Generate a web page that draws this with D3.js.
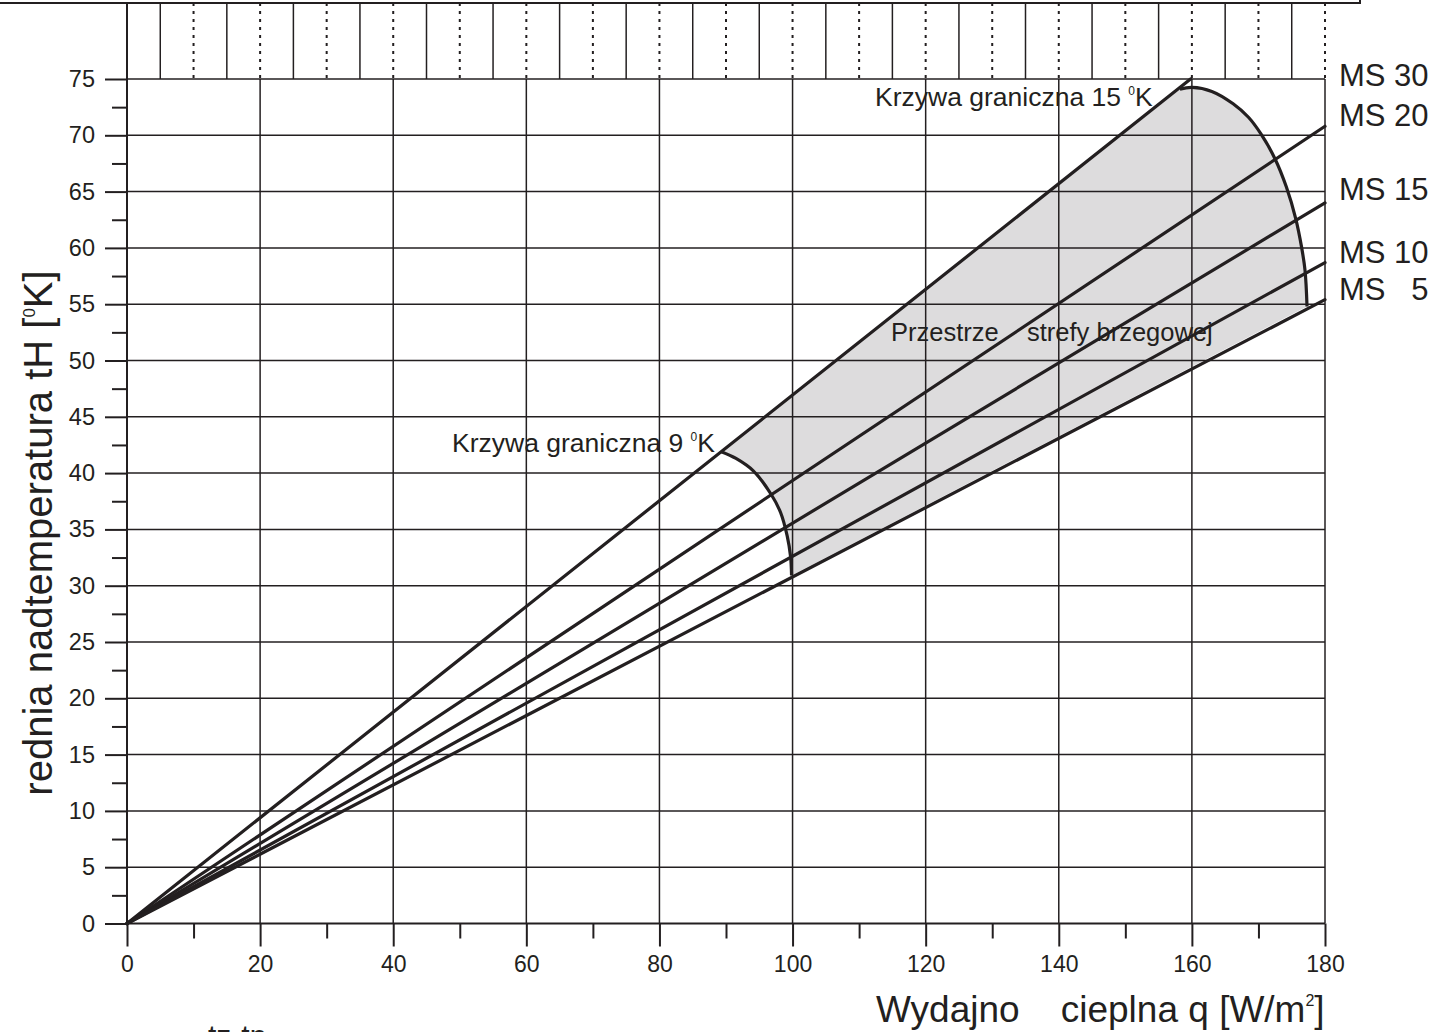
<!DOCTYPE html>
<html>
<head>
<meta charset="utf-8">
<script src="https://cdn.jsdelivr.net/npm/d3@7"></script>
<style>
  body { margin: 0; background: #fff; }
  svg { display: block; }
  text { font-family: "Liberation Sans", Arial, sans-serif; fill: #231f20; }
</style>
</head>
<body>
<svg id="chart" width="1434" height="1032"></svg>
<script>
// linie MS: wszystkie wychodzą z (0,0), tu tylko punkty końcowe (q, tH)
const series = ["MS 30", "MS 20", "MS 15", "MS 10", "MS   5"];
const lineEndQ = [159.8, 180, 180, 180, 180];
const lineEndT = [75, 70.8, 64.0, 58.7, 55.4];

// krzywa graniczna 9 K (od MS 30 do MS 5)
const curve9Q = [89.3, 91.5, 94.1, 96.8, 98.2, 99.2, 99.7, 99.85];
const curve9T = [41.9, 41.3, 40.2, 38.1, 36.5, 34.4, 32.6, 30.9];

// krzywa graniczna 15 K
const curve15Q = [158.2, 160, 163, 166.2, 168.5, 170.4, 172.5, 174.2, 175.6, 176.5, 177.0, 177.3];
const curve15T = [74.1, 74.25, 73.9, 72.8, 71.6, 70.1, 67.9, 65.4, 62.6, 60.0, 58.0, 54.8];

const xTicks = [0, 20, 40, 60, 80, 100, 120, 140, 160, 180];
const xMinor = [10, 30, 50, 70, 90, 110, 130, 150, 170];
const yTicks = d3.range(0, 76, 5);
const yMinor = d3.range(2.5, 75, 5);
const stripSolid = d3.range(5, 180, 10);
const stripDotted = d3.range(10, 181, 10);

const ink = "#231f20";
const svg = d3.select("#chart");
const x = d3.scaleLinear().domain([0, 180]).range([127, 1325]);
const y = d3.scaleLinear().domain([0, 75]).range([923.5, 79]);
const stripTop = 3;

// obszar strefy brzegowej
const pts9 = curve9Q.map((q, i) => [q, curve9T[i]]);
const pts15 = curve15Q.map((q, i) => [q, curve15T[i]]);
const curve = d3.line().x(d => x(d[0])).y(d => y(d[1])).curve(d3.curveCatmullRom.alpha(0.5));
const area = curve(pts9) + curve(pts15.slice().reverse()).replace(/^M/, "L") + "Z";
svg.append("path").attr("d", area).attr("fill", "#dddcdd");

// siatka
const grid = svg.append("g").attr("stroke", ink).attr("stroke-width", 1.5);
grid.selectAll(".h").data(yTicks.filter(v => v > 0)).join("line")
  .attr("x1", x(0)).attr("x2", x(180)).attr("y1", d => y(d)).attr("y2", d => y(d));
grid.selectAll(".v").data(xTicks.filter(v => v > 0)).join("line")
  .attr("x1", d => x(d)).attr("x2", d => x(d)).attr("y1", y(75)).attr("y2", y(0));

// pasek u góry
grid.selectAll(".s").data(stripSolid).join("line")
  .attr("x1", d => x(d)).attr("x2", d => x(d)).attr("y1", stripTop).attr("y2", y(75));
grid.selectAll(".d").data(stripDotted).join("line")
  .attr("x1", d => x(d)).attr("x2", d => x(d)).attr("y1", stripTop).attr("y2", y(75))
  .attr("stroke-dasharray", "3,5").attr("stroke-width", 2);
svg.append("path").attr("d", `M0,${stripTop}H1360V0`).attr("fill", "none")
  .attr("stroke", ink).attr("stroke-width", 2);
svg.append("line").attr("x1", x(0)).attr("x2", x(0)).attr("y1", stripTop).attr("y2", y(0))
  .attr("stroke", ink).attr("stroke-width", 2);

// osie
function styleAxis(g) {
  g.select(".domain").remove();
  g.selectAll(".tick line").attr("stroke", ink).attr("stroke-width", 2);
  g.selectAll(".tick text").attr("fill", ink).style("font-family", '"Liberation Sans", Arial, sans-serif');
}
svg.append("g").attr("transform", `translate(${x(0)},0)`)
  .call(d3.axisLeft(y).tickValues(yTicks).tickSize(22).tickPadding(10).tickFormat(d3.format("d")))
  .call(styleAxis).selectAll("text").style("font-size", "23.5px");
svg.append("g").attr("transform", `translate(${x(0)},0)`)
  .call(d3.axisLeft(y).tickValues(yMinor).tickSize(15).tickFormat(""))
  .call(styleAxis);
svg.append("g").attr("transform", `translate(0,${y(0)})`)
  .call(d3.axisBottom(x).tickValues(xTicks).tickSize(23).tickPadding(9).tickFormat(d3.format("d")))
  .call(styleAxis).selectAll("text").style("font-size", "23px");
svg.append("g").attr("transform", `translate(0,${y(0)})`)
  .call(d3.axisBottom(x).tickValues(xMinor).tickSize(15).tickFormat(""))
  .call(styleAxis);
svg.append("line").attr("x1", x(0)).attr("x2", x(180)).attr("y1", y(0)).attr("y2", y(0))
  .attr("stroke", ink).attr("stroke-width", 2);

// linie MS
svg.append("g").selectAll("line").data(series).join("line")
  .attr("x1", x(0)).attr("y1", y(0))
  .attr("x2", (d, i) => x(lineEndQ[i])).attr("y2", (d, i) => y(lineEndT[i]))
  .attr("stroke", ink).attr("stroke-width", 3.2).attr("stroke-linecap", "round");

// krzywe graniczne
[pts9, pts15].forEach(p => svg.append("path").attr("d", curve(p)).attr("fill", "none")
  .attr("stroke", ink).attr("stroke-width", 3.2));

// etykiety MS
const labelDy = [7, 0, -3, 0, 0];
svg.append("g").selectAll("text").data(series).join("text")
  .attr("x", 1339).attr("y", (d, i) => y(lineEndT[i]) + labelDy[i])
  .attr("xml:space", "preserve").style("white-space", "pre")
  .style("font-size", "31px").text(d => d);

// opisy
function supText(tx, ty, size, before, sup, after, supSize, supDy) {
  const t = svg.append("text").attr("x", tx).attr("y", ty).style("font-size", size + "px")
    .style("white-space", "pre");
  t.append("tspan").text(before);
  t.append("tspan").style("font-size", supSize + "px").attr("dy", -supDy).text(sup);
  t.append("tspan").attr("dy", supDy).text(after);
  return t;
}
supText(875, 106, 26.5, "Krzywa graniczna 15 ", "0", "K", 12, 11);
supText(452, 452, 26.5, "Krzywa graniczna 9 ", "0", "K", 12, 11);
svg.append("text").attr("x", 891).attr("y", 341).style("font-size", "25.5px")
  .style("white-space", "pre").text("Przestrze    strefy brzegowej");

supText(876, 1022, 37, "Wydajno    cieplna q [W/m", "2", "]", 16, 16);
supText(0, 0, 40, "rednia nadtemperatura tH [", "0", "K]", 17, 17)
  .attr("transform", "translate(52,533) rotate(-90)").attr("text-anchor", "middle");
svg.append("text").attr("x", 208).attr("y", 1046).style("font-size", "30px").text("tz-tp");
</script>
</body>
</html>
